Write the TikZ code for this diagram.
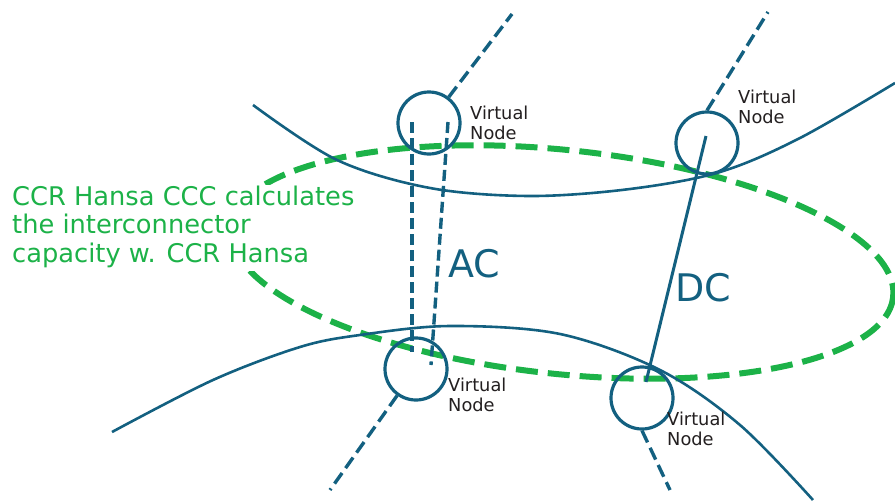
\documentclass[tikz,border=0pt]{standalone}
\usepackage{fontspec}
\setmainfont{DejaVu Sans}
\definecolor{gridblue}{RGB}{19,96,128}
\definecolor{ccrgreen}{RGB}{28,178,72}
\definecolor{labelgray}{RGB}{35,31,32}
\begin{document}
\begin{tikzpicture}[x=1pt,y=-1pt,
  vnode/.style={circle,draw=gridblue,line width=3.2pt,minimum size=62pt,inner sep=0pt},
  grid/.style={draw=gridblue,line width=2.6pt},
  tieline/.style={draw=gridblue,line width=3.4pt,dash pattern=on 13pt off 6pt},
  acline/.style={draw=gridblue,line width=3.4pt,dash pattern=on 11pt off 5pt},
  dcline/.style={draw=gridblue,line width=3pt},
  region/.style={draw=ccrgreen,line width=6pt,dash pattern=on 22pt off 10pt},
  vlabel/.style={anchor=base west,inner sep=0pt,text=labelgray,font=\fontsize{17.8}{20}\selectfont},
  tech/.style={anchor=base west,inner sep=0pt,text=gridblue,font=\fontsize{38}{40}\selectfont}
]
\useasboundingbox (0,0) rectangle (895,501);

% capacity calculation region
\draw[region, rotate around={-6:(562,262)}] (562,262) ellipse [x radius=333, y radius=112];

% the two grid areas
\draw[grid] plot[smooth,tension=0.55] coordinates
  {(253,105) (337,160) (430,188) (530,196) (630,189) (720,172) (800,138) (895,83)};
\draw[grid] plot[smooth,tension=0.55] coordinates
  {(112,432) (213,380) (300,347) (360,335) (450,326) (560,334) (660,370) (740,425) (813,500)};

% virtual nodes
\node[vnode] (c1) at (429,123) {};
\node[vnode] (c2) at (707,143) {};
\node[vnode] (c3) at (416,369) {};
\node[vnode] (c4) at (642,398) {};

% lines leaving the virtual nodes
\coordinate (t1) at (512,14);
\coordinate (t2) at (768,12);
\coordinate (t3) at (330,490);
\coordinate (t4) at (670,490);
\draw[tieline] (c1) -- (t1);
\draw[tieline] (c2.north) -- (t2);
\draw[tieline] (c3) -- (t3);
\draw[tieline] (c4.south) -- (t4);

% AC interconnector (two circuits)
\coordinate (aca1) at (412,122);
\coordinate (aca2) at (412,352);
\coordinate (acb1) at (448,122);
\coordinate (acb2) at (431,365);
\draw[acline] (aca1) -- (aca2);
\draw[acline] (acb1) -- (acb2);

% DC interconnector
\coordinate (dc1) at (706,136);
\coordinate (dc2) at (646,382);
\draw[dcline] (dc1) -- (dc2);

% labels
\node[tech] (ac) at (448,277) {AC};
\node[tech] (dc) at (675,301) {DC};

\node[vlabel] (vl1) at (470,119) {\begin{tabular}[t]{@{}l@{}}Virtual\\Node\end{tabular}};
\node[vlabel] (vl2) at (738,103) {\begin{tabular}[t]{@{}l@{}}Virtual\\Node\end{tabular}};
\node[vlabel] (vl3) at (448,391) {\begin{tabular}[t]{@{}l@{}}Virtual\\Node\end{tabular}};
\node[vlabel] (vl4) at (667,425) {\begin{tabular}[t]{@{}l@{}}Virtual\\Node\end{tabular}};

\node[anchor=base west,fill=white,inner sep=0pt,text=ccrgreen,
      font=\fontsize{25.7}{28.5}\selectfont] (note) at (12,205)
  {\begin{tabular}[t]{@{}l@{}}CCR Hansa CCC calculates\\the interconnector\\capacity w. CCR Hansa\end{tabular}};
\end{tikzpicture}
\end{document}
